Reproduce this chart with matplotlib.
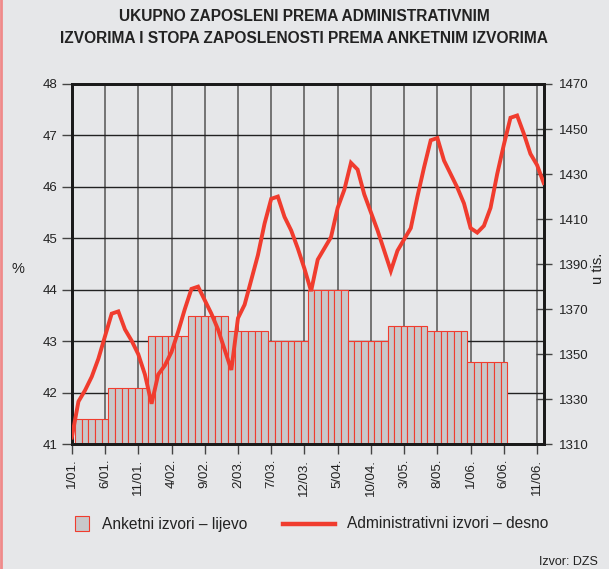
import numpy as np
import matplotlib
matplotlib.use('Agg')
import matplotlib.pyplot as plt
from matplotlib.patches import Rectangle
from matplotlib.lines import Line2D

plt.rcParams['font.family'] = ['Liberation Sans', 'DejaVu Sans']

# anketni izvori (%), polugodisnje vrijednosti, prikazano po mjesecima
survey_vals = [41.5, 42.1, 43.1, 43.5, 43.2, 43.0, 44.0, 43.0, 43.3, 43.2, 42.6]
survey_months = [5, 6, 6, 6, 6, 6, 6, 6, 6, 6, 6]

# administrativni izvori (u tis.), mjesecno od 1/01. do 12/06.
admin = [1313, 1329, 1334, 1340, 1348, 1358, 1368, 1369, 1361, 1356,
         1350, 1341, 1328, 1341, 1345, 1351, 1360, 1370, 1379, 1380,
         1374, 1368, 1361, 1352, 1343, 1366, 1372, 1383, 1394, 1408,
         1419, 1420, 1411, 1405, 1397, 1388, 1378, 1392, 1397, 1402,
         1415, 1423, 1435, 1432, 1421, 1413, 1405, 1396, 1387, 1396,
         1401, 1406, 1420, 1433, 1445, 1446, 1436, 1430, 1424, 1417,
         1406, 1404, 1407, 1415, 1430, 1443, 1455, 1456, 1448, 1439,
         1434, 1426]

tick_labels = ['1/01.', '6/01.', '11/01.', '4/02.', '9/02.', '2/03.', '7/03.',
               '12/03.', '5/04.', '10/04.', '3/05.', '8/05.', '1/06.', '6/06.',
               '11/06.']

bg = '#e6e7e9'
red = '#f03c2e'
txt = '#222222'

bar_vals = np.repeat(survey_vals, survey_months)
bar_x = np.arange(1, len(bar_vals) + 1)
line_x = np.arange(len(admin))

fig = plt.figure(figsize=(6.09, 5.69), dpi=100, facecolor=bg)
ax = fig.add_axes([0.1179, 0.2192, 0.7749, 0.6332])
ax.set_facecolor(bg)

ax.bar(bar_x, bar_vals - 41, bottom=41, width=1.0, color='#c8c8ca',
       edgecolor=red, linewidth=0.8, zorder=2)
ax.set_xlim(0, 71)
ax.set_ylim(41, 48)
ax.set_yticks(range(41, 49))
ax.set_xticks(range(0, 71, 5))
ax.set_xticklabels(tick_labels, rotation=90)
ax.set_axisbelow(True)
ax.grid(axis='y', color='#222222', linewidth=1.0, zorder=0)
ax.grid(axis='x', color='#6a6a6a', linewidth=1.3, zorder=0)
ax.tick_params(axis='both', labelsize=9.5, color='#444444', length=7,
               width=1.0, labelcolor=txt)
for s in ax.spines.values():
    s.set_linewidth(2.0)
    s.set_color('#1a1a1a')

ax2 = ax.twinx()
ax2.plot(line_x, admin, color=red, linewidth=2.8, zorder=5,
         solid_joinstyle='miter')
ax2.set_ylim(1310, 1470)
ax2.set_yticks(range(1310, 1471, 20))
ax2.tick_params(axis='y', labelsize=9.5, color='#444444', length=12,
                width=1.0, direction='inout', pad=5, labelcolor=txt)
for s in ax2.spines.values():
    s.set_linewidth(2.0)
    s.set_color('#1a1a1a')

fig.text(0.5, 0.985, 'UKUPNO ZAPOSLENI PREMA ADMINISTRATIVNIM\n'
         'IZVORIMA I STOPA ZAPOSLENOSTI PREMA ANKETNIM IZVORIMA',
         ha='center', va='top', fontsize=11.2, fontweight='bold',
         color=txt, linespacing=1.6)
fig.text(0.03, 0.528, '%', ha='center', va='center', fontsize=10.5,
         color=txt)
fig.text(0.982, 0.528, 'u tis.', ha='center', va='center', fontsize=10.5,
         rotation=90, color=txt)

# legenda
fig.add_artist(Rectangle((75 / 609, 1 - 531 / 569), 14 / 609, 15 / 569,
                         facecolor='#c8c8ca', edgecolor=red, linewidth=0.8,
                         transform=fig.transFigure))
fig.text(102 / 609, 1 - 524 / 569, 'Anketni izvori – lijevo',
         ha='left', va='center', fontsize=11.2, color=txt)
fig.add_artist(Line2D([283 / 609, 335 / 609], [1 - 524 / 569, 1 - 524 / 569],
                      color=red, linewidth=3.2, transform=fig.transFigure))
fig.text(347 / 609, 1 - 524 / 569, 'Administrativni izvori – desno',
         ha='left', va='center', fontsize=11.2, color=txt)

fig.text(0.982, 0.012, 'Izvor: DZS', ha='right', va='center', fontsize=9,
         color=txt)

fig.add_artist(Line2D([0.002, 0.002], [0, 1], color='#f08a8a',
                      linewidth=2, transform=fig.transFigure))

fig.savefig('out.png', dpi=100, facecolor=bg)
